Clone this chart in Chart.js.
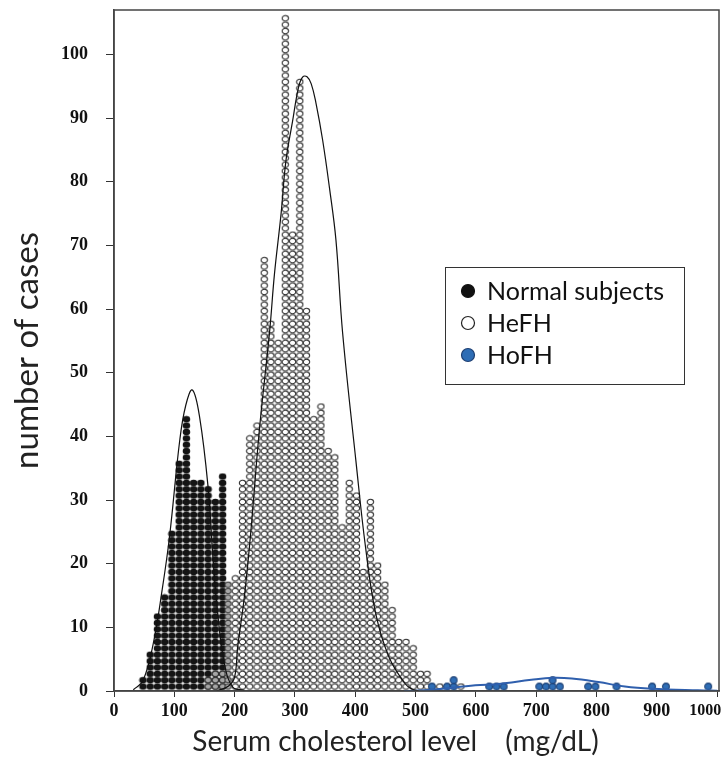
<!DOCTYPE html>
<html><head><meta charset="utf-8">
<script src="https://cdn.jsdelivr.net/npm/chart.js@4.4.1/dist/chart.umd.min.js"></script>
<style>html,body{margin:0;padding:0;background:#fff}</style>
</head><body>
<canvas id="c" width="724" height="763" style="width:724px;height:763px;display:block"></canvas>
<script>
// ---- data (x in mg/dL, counts = number of cases per column) ----
const normalX = [48,60,72,84,96,108,120,132,144,156,168,180];
const normalN = [2,6,12,15,25,36,43,33,33,32,30,34];
const grayX = [156,168,180,189];
const grayN = [2,3,3,17];
const hefhX = [201,213,225,237,249,260,272,284,296,308,319,331,343,355,366,378,390,402,413,425,437,449,461,472,484,496,508,519,540,575];
const hefhN = [18,33,40,42,68,58,55,106,72,96,60,43,45,38,37,26,33,31,19,30,20,17,13,8,8,7,3,3,1,1];
const hofhX = [527,552,563,622,634,646,705,716,727,739,786,798,833,892,915,985];
const hofhN = [1,1,2,1,1,1,1,1,2,1,1,1,1,1,1,1];
// density curves
const normCurveX = [32,48,65,80,92,109,119,130,142,156,164,172,183,197,216];
const normCurveY = [0.2,1.6,7.4,16,24.2,39.4,44.9,47.3,43,32,21,12.1,4.3,0.6,0.1];
const hefhCurveX = [170,190,200,205,216,227,241,258,266,277,285,296,306,313,320,327,335,346,357,368,379,401,417,434,456,483,494,505];
const hefhCurveY = [0,0.8,2.2,6.9,14.7,25.2,41,56.5,65.5,75,83.3,89.5,94.9,96.5,96.5,95.4,92.3,86.5,79.2,70.8,56.3,36.2,22.6,12.1,5.3,1.1,0.3,0];
const hofhCurveX = [481,527,599,638,692,728,759,803,847,891,968,1000];
const hofhCurveY = [0,0.2,0.9,1.1,1.76,2.07,1.96,1.4,0.7,0.35,0.1,0.05];
const yTicks = [0,10,20,30,40,50,60,70,80,90,100];
const xTicks = [0,100,200,300,400,500,600,700,800,900,1000];
const seriesNames = ['Normal subjects','HeFH','HoFH'];

function stack(xs, ns){
  const pts = [];
  xs.forEach((x,i)=>{ for(let k=1;k<=ns[i];k++) pts.push({x:x, y:k-0.3}); });
  return pts;
}
function curve(xs, ys){ return xs.map((x,i)=>({x:x,y:ys[i]})); }
function dot(w,h,rx,ry,fill,stroke,lw){
  const c = document.createElement('canvas'); c.width = w; c.height = h;
  const g = c.getContext('2d');
  g.beginPath(); g.ellipse(w/2, h/2, rx, ry, 0, 0, Math.PI*2);
  g.fillStyle = fill; g.fill();
  if (lw) { g.lineWidth = lw; g.strokeStyle = stroke; g.stroke(); }
  return c;
}
const ringImg  = dot(9,8,3.2,2.75,'#fff','#2a2a2a',1.05);
const blackImg = dot(9,8,3.75,3.3,'#141414','#141414',0);
const grayImg  = dot(9,8,3.2,2.75,'#a6a6a6','#333',1.05);
const blueImg  = dot(10,10,3.4,3.4,'#2e6db5','#1d3f72',1.1);

const boxPlugin = {
  id:'boxLegend',
  afterDatasetsDraw(chart){
    const {ctx, chartArea:a} = chart;
    ctx.save();
    ctx.strokeStyle = '#444'; ctx.lineWidth = 1.5;
    ctx.strokeRect(a.left, a.top, a.right-a.left, a.bottom-a.top);
    ctx.lineWidth = 1; ctx.strokeStyle = '#333';
    ctx.fillStyle = '#fff';
    ctx.fillRect(445.5, 267.5, 239, 117);
    ctx.strokeRect(445.5, 267.5, 239, 117);
    const fills = ['#111','#fff','#2e6db5'];
    const strokes = ['#111','#222','#1d3f72'];
    ctx.font = '25px Lato';
    ctx.textBaseline = 'middle';
    seriesNames.forEach((n,i)=>{
      const y = 291 + i*32;
      ctx.beginPath(); ctx.arc(468, y, 6.5, 0, Math.PI*2);
      ctx.fillStyle = fills[i]; ctx.fill();
      ctx.lineWidth = 1.2; ctx.strokeStyle = strokes[i]; ctx.stroke();
      ctx.fillStyle = '#111';
      ctx.fillText(n, 487, y+1);
    });
    ctx.restore();
  }
};

const tickFont = {family:'Liberation Serif', size:18, weight:'bold'};
new Chart(document.getElementById('c'), {
  type:'scatter',
  data:{datasets:[
    {type:'line', label:'nc', data:curve(normCurveX,normCurveY), borderColor:'#111', borderWidth:1.2, pointRadius:0, tension:0.4, order:0},
    {type:'line', label:'hc', data:curve(hefhCurveX,hefhCurveY), borderColor:'#111', borderWidth:1.2, pointRadius:0, tension:0.4, order:0},
    {type:'line', label:'oc', data:curve(hofhCurveX,hofhCurveY), borderColor:'#2f5fad', borderWidth:2, pointRadius:0, tension:0.4, order:0},
    {label:'gray', data:stack(grayX,grayN), pointStyle:grayImg, pointRadius:3.3, order:1},
    {label:seriesNames[2], data:stack(hofhX,hofhN), pointStyle:blueImg, pointRadius:3.7, order:1},
    {label:seriesNames[0], data:stack(normalX,normalN), pointStyle:blackImg, pointRadius:3.4, order:2},
    {label:seriesNames[1], data:stack(hefhX,hefhN), pointStyle:ringImg, pointRadius:3.2, order:3}
  ]},
  options:{
    responsive:false, animation:false, devicePixelRatio:1,
    layout:{padding:{left:0,top:10,right:3,bottom:0}},
    plugins:{legend:{display:false}, tooltip:{enabled:false}},
    scales:{
      x:{type:'linear', min:0, max:1003,
        afterFit(s){ s.height = 72; s.paddingLeft=0; s.paddingRight=0; },
        afterBuildTicks(s){ s.ticks = xTicks.map(v=>({value:v})); },
        ticks:{
          font:(c)=> (c.tick && c.tick.value===1000) ? {family:'Liberation Serif', size:16, weight:'bold'} : tickFont,
          callback:(v)=> v===1000 ? '1000\u2003\u2002' : String(v),
          color:'#111', padding:4, maxRotation:0, autoSkip:false, includeBounds:false},
        grid:{drawOnChartArea:false, drawTicks:true, tickLength:6, color:'#333'},
        border:{display:true, color:'#444', width:1.5},
        title:{display:true, text:'Serum cholesterol level\u3000(mg/dL)\u3000\u2002', font:{family:'Lato', size:28}, color:'#222', padding:{top:0,bottom:4}}
      },
      y:{min:0, max:107,
        afterFit(s){ s.width = 114; s.paddingTop=0; s.paddingBottom=0; },
        afterBuildTicks(s){ s.ticks = yTicks.map(v=>({value:v})); },
        ticks:{font:tickFont, color:'#111', padding:18, includeBounds:false},
        grid:{drawOnChartArea:false, drawTicks:true, tickLength:8, color:'#333'},
        border:{display:true, color:'#444', width:1.5},
        title:{display:true, text:'number of cases', font:{family:'Lato', size:33}, color:'#222', padding:{top:8,bottom:0}}
      }
    }
  },
  plugins:[boxPlugin]
});
</script>
</body></html>
